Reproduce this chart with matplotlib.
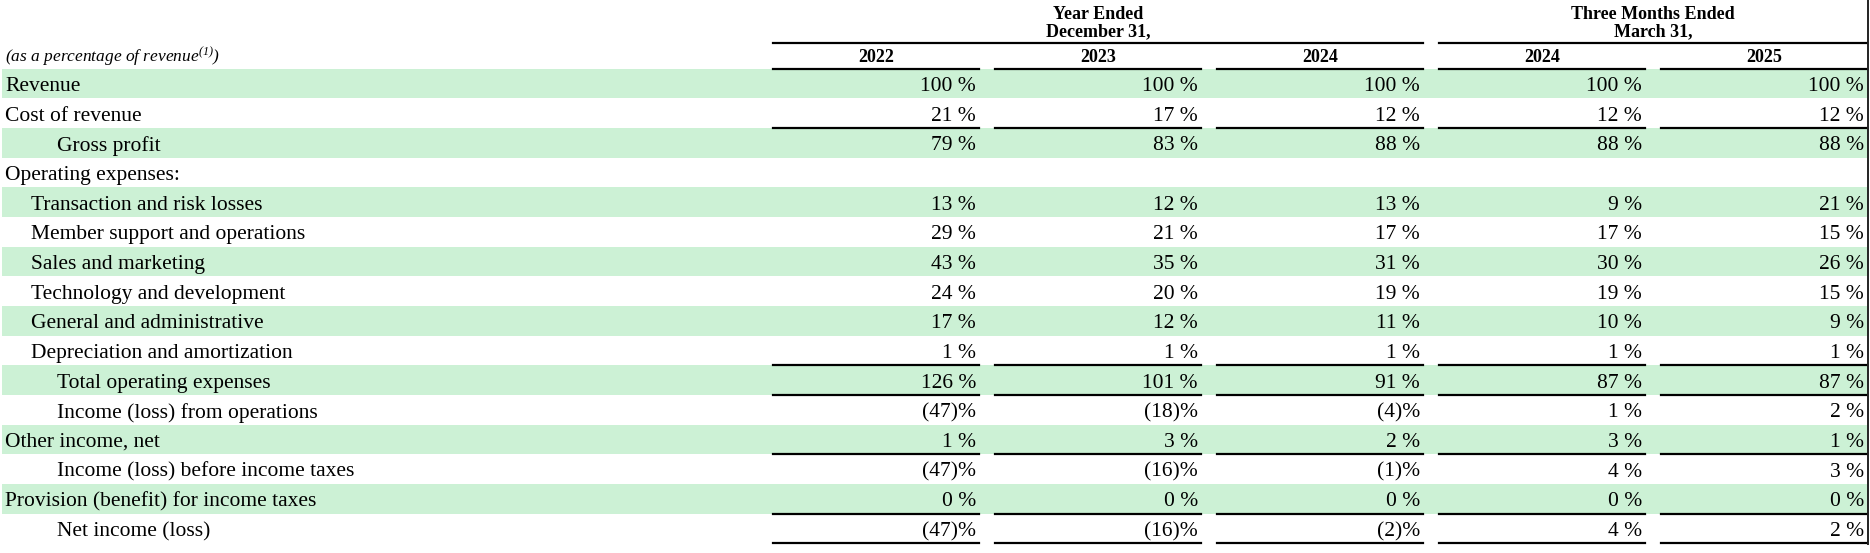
import matplotlib
matplotlib.use("Agg")
import matplotlib.pyplot as plt

plt.rcParams['font.family'] = ['Liberation Serif', 'DejaVu Serif']
plt.rcParams['mathtext.fontset'] = 'custom'
plt.rcParams['mathtext.rm'] = 'Liberation Serif:italic'
plt.rcParams['mathtext.it'] = 'Liberation Serif:italic'

# table data
labels = ["Revenue", "Cost of revenue", "Gross profit", "Operating expenses:",
          "Transaction and risk losses", "Member support and operations",
          "Sales and marketing", "Technology and development",
          "General and administrative", "Depreciation and amortization",
          "Total operating expenses", "Income (loss) from operations",
          "Other income, net", "Income (loss) before income taxes",
          "Provision (benefit) for income taxes", "Net income (loss)"]
indent = [0, 0, 2, 0, 1, 1, 1, 1, 1, 1, 2, 2, 0, 2, 0, 2]

col_years = ["2022", "2023", "2024", "2024", "2025"]
fy2022 = [100, 21, 79, None, 13, 29, 43, 24, 17, 1, 126, -47, 1, -47, 0, -47]
fy2023 = [100, 17, 83, None, 12, 21, 35, 20, 12, 1, 101, -18, 3, -16, 0, -16]
fy2024 = [100, 12, 88, None, 13, 17, 31, 19, 11, 1, 91, -4, 2, -1, 0, -2]
q2024 = [100, 12, 88, None, 9, 17, 30, 19, 10, 1, 87, 1, 3, 4, 0, 4]
q2025 = [100, 12, 88, None, 21, 15, 26, 15, 9, 1, 87, 2, 1, 3, 0, 2]
columns = [fy2022, fy2023, fy2024, q2024, q2025]

groups = ["Year Ended\nDecember 31,", "Three Months Ended\nMarch 31,"]
group_cols = [(0, 2), (3, 4)]

# lines drawn above these rows (and one extra at the bottom)
rule_rows = [2, 10, 11, 13, 15, 16]

green = "#CCF1D5"
W, H = 1870, 553
row_top = 68.7
row_h = 29.66
col_x0 = 773
col_step = 222
col_w = 206
indent_px = [5, 31, 57]


def fmt(v):
    if v is None:
        return ""
    if v < 0:
        return f"({abs(v)})%"
    return f"{v} %"


fig = plt.figure(figsize=(W / 100, H / 100), dpi=100)
ax = fig.add_axes([0, 0, 1, 1])
ax.set_xlim(0, W)
ax.set_ylim(H, 0)
ax.axis('off')

# shaded rows
for i in range(len(labels)):
    if i % 2 == 0:
        ax.add_patch(plt.Rectangle((2, row_top + i * row_h), 1865, row_h,
                                   color=green, lw=0, zorder=0))

# row labels and values
for i, lab in enumerate(labels):
    yc = row_top + (i + 0.5) * row_h + 3
    ax.text(indent_px[indent[i]], yc, lab, fontsize=15.5, va='center', ha='left')
    for j, col in enumerate(columns):
        xr = col_x0 + j * col_step + col_w - 3
        ax.text(xr, yc, fmt(col[i]), fontsize=15.5, va='center', ha='right')

# column headers
for j, yr in enumerate(col_years):
    xl = col_x0 + j * col_step
    ax.text(xl + col_w / 2, 57.5, yr, fontsize=13, fontweight='bold',
            ha='center', va='center')
    ax.plot([xl, xl + col_w], [row_top, row_top], color='black', lw=1.6)
    for r in rule_rows:
        y = row_top + r * row_h
        ax.plot([xl, xl + col_w], [y, y], color='black', lw=1.6)

# group headers
for g, (a, b) in zip(groups, group_cols):
    xl = col_x0 + a * col_step
    xr = col_x0 + b * col_step + col_w
    lines = g.split("\n")
    ax.text((xl + xr) / 2, 14.5, lines[0], fontsize=13, fontweight='bold',
            ha='center', va='center')
    ax.text((xl + xr) / 2, 32, lines[1], fontsize=13, fontweight='bold',
            ha='center', va='center')
    ax.plot([xl, xr], [42.7, 42.7], color='black', lw=1.6)

ax.text(5, 57, r"(as a percentage of revenue$^{(1)}$)", fontsize=12.5,
        style='italic', ha='left', va='center')

# right edge border
ax.plot([1868, 1868], [0, 544], color='#222222', lw=1.4)

fig.savefig("out.png", dpi=100)
